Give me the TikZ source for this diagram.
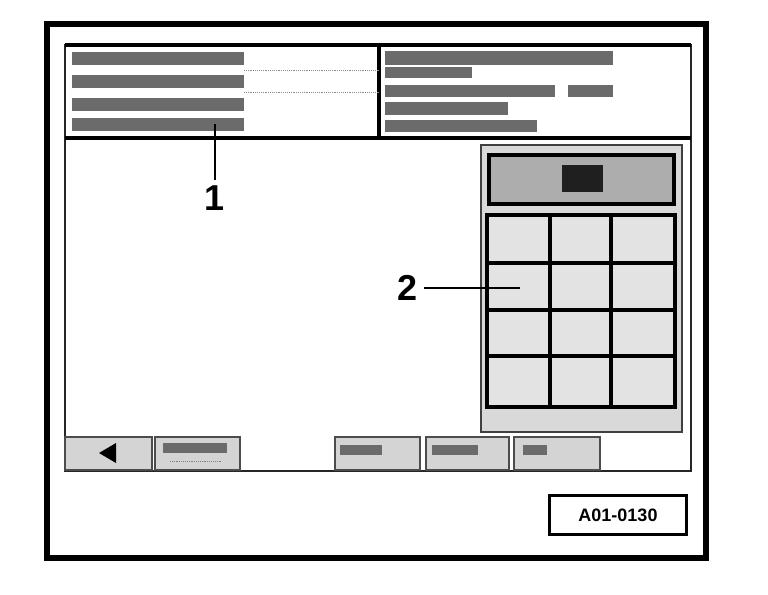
\documentclass[tikz,border=0pt]{standalone}
\usepackage{fontspec}
\setmainfont{Liberation Sans}
\begin{document}
\begin{tikzpicture}[x=0.75pt, y=-0.75pt,
  bar/.style={fill=black!58},
  btn/.style={fill=black!17, draw=black!70, line width=1.2pt},
  key/.style={line width=2.4pt},
  callout/.style={font=\fontsize{27}{27}\selectfont\bfseries, inner sep=4pt},
  leader/.style={line width=2.2pt}]
\useasboundingbox (0,0) rectangle (768,594);

\def \xl      {65};
\def \xr      {691};
\def \xdiv    {379};
\def \ytop    {45};
\def \yhead   {138};
\def \ybot    {471};

% outer frame
\draw [line width=3.8pt] (47,24) rectangle (706,558);
% screen
\draw [line width=1.8pt, black!85] (\xl, \ytop) rectangle (\xr, \ybot);
\draw [line width=2.6pt] (\xl, \ytop) -- (\xr, \ytop);
\draw [line width=3pt] (\xl, \yhead) -- (\xr, \yhead);
\draw [line width=3.4pt] (\xdiv, \ytop) -- (\xdiv, \yhead);

% header, left
\foreach \ya/\yb in {52/65, 75/88, 98/111, 118/131}
  \fill [bar] (72, \ya) rectangle (244, \yb);
\draw [black!45, densely dotted] (244, 70) -- (\xdiv, 70);
\draw [black!45, densely dotted] (244, 92) -- (\xdiv, 92);

% header, right
\foreach \xa/\ya/\xb/\yb in {385/51/613/65, 385/67/472/78, 385/85/555/97,
                             568/85/613/97, 385/102/508/115, 385/120/537/132}
  \fill [bar] (\xa, \ya) rectangle (\xb, \yb);

% keypad
\filldraw [fill=black!15, draw=black!75, line width=1.5pt] (481, 145) rectangle (682, 432);
\filldraw [fill=black!32, draw=black, line width=3pt] (489, 155) rectangle (674, 204);
\fill [black!88] (562, 165) rectangle (603, 192);
\filldraw [key, fill=black!11] (487, 215) rectangle (675, 407);
\foreach \xk in {550, 611}
  \draw [key] (\xk, 215) -- (\xk, 407);
\foreach \yk in {263, 310, 356}
  \draw [key] (487, \yk) -- (675, \yk);

% buttons
\foreach \xa/\xb in {65/152, 155/240, 335/420, 426/509, 514/600}
  \filldraw [btn] (\xa, 437) rectangle (\xb, 470);
\fill (99, 453) -- (116, 443) -- (116, 463) -- cycle;
\foreach \xa/\ya/\xb/\yb in {163/443/227/453, 340/445/382/455, 432/445/478/455, 523/445/547/455}
  \fill [bar] (\xa, \ya) rectangle (\xb, \yb);
\draw [black!50, densely dotted] (170, 461) -- (222, 461);

% picture code
\node (code) [draw, line width=2.6pt, minimum width=103pt, minimum height=29pt, inner sep=0pt,
  font=\fontsize{13.5}{13.5}\selectfont\bfseries] at (618, 515) {A01-0130};

% callouts
\node (one) [callout] at (215, 198) {1};
\coordinate (onetip) at (215, 124);
\draw [leader] (one) -- (onetip);

\node (two) [callout] at (408, 288) {2};
\coordinate (twotip) at (520, 288);
\draw [leader, line width=1.6pt] (two) -- (twotip);

\end{tikzpicture}
\end{document}
